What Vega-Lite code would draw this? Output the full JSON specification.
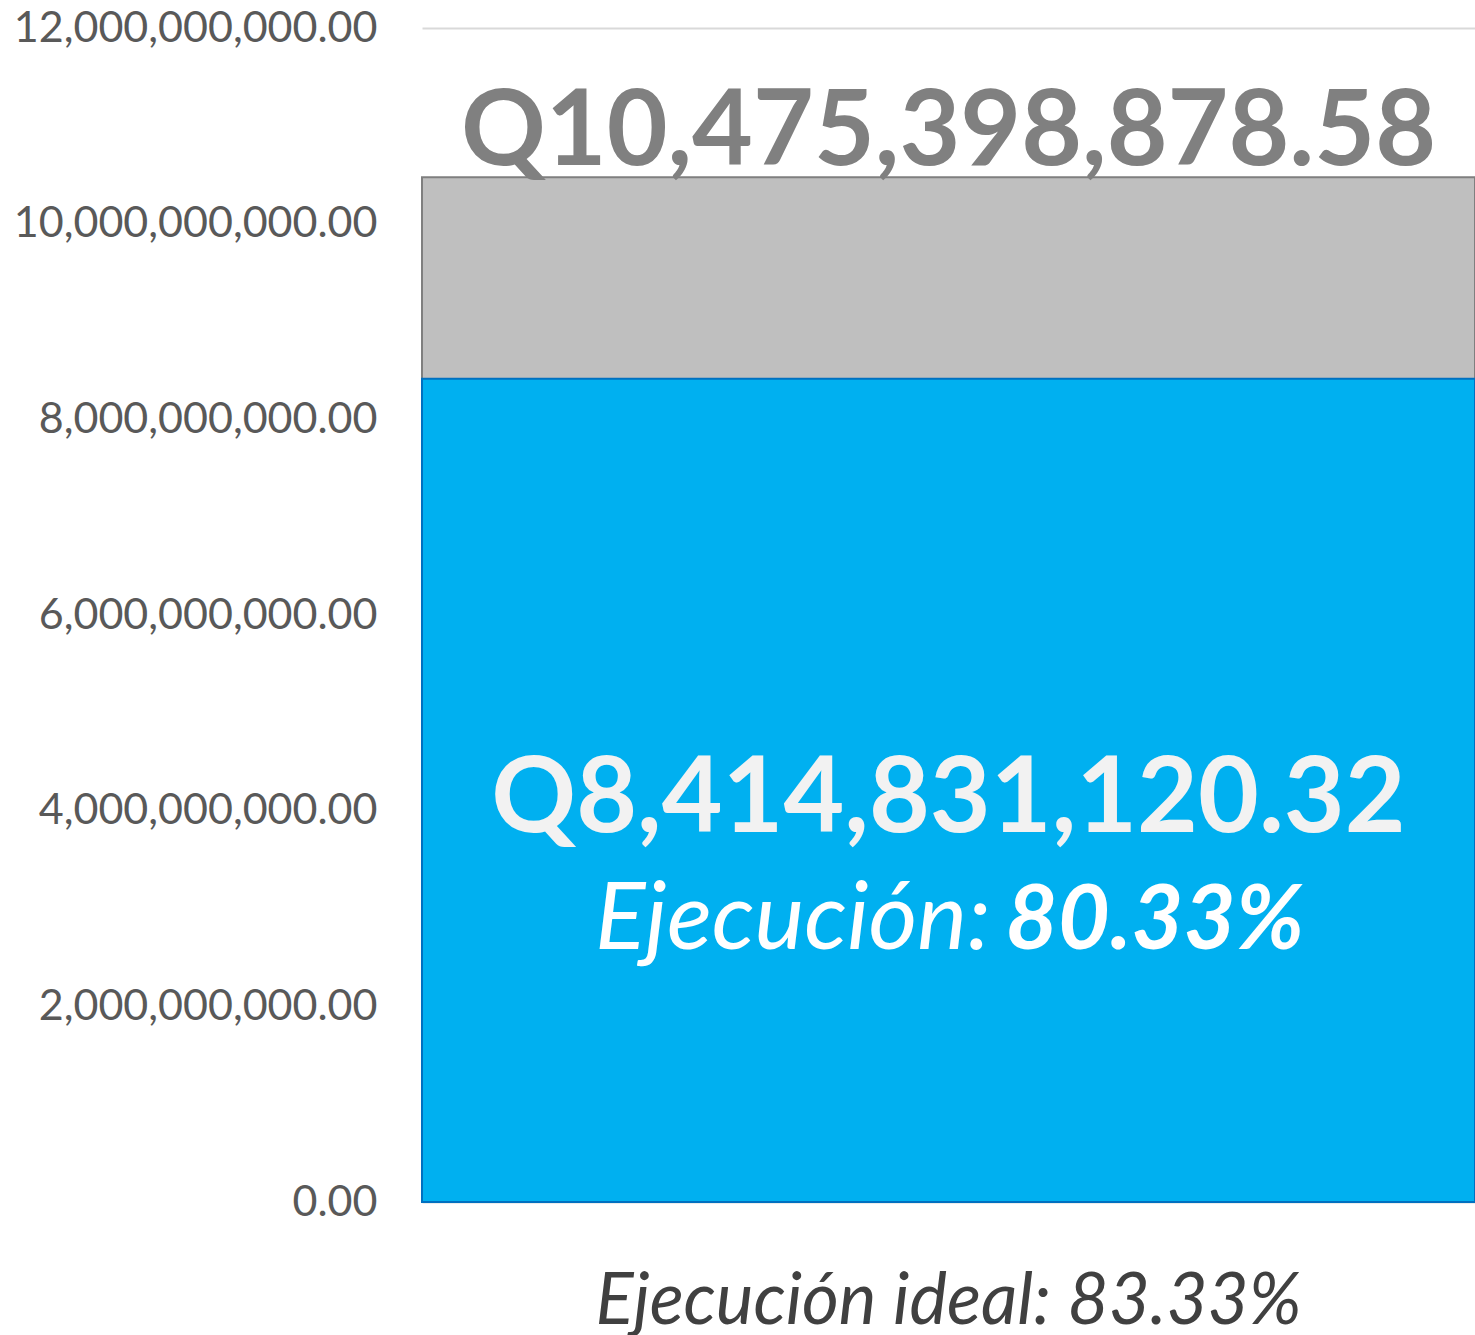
{
  "$schema": "https://vega.github.io/schema/vega-lite/v6.json",
  "autosize": {"type": "none"},
  "width": 1053,
  "height": 1174,
  "padding": {"left": 422, "top": 28, "right": 0, "bottom": 133},
  "background": "white",
  "config": {
    "view": {"stroke": null},
    "font": "Lato",
    "locale": {"number": {"decimal": ".", "thousands": ",", "grouping": [3], "currency": ["Q", ""]}}
  },
  "data": {"values": [
    {"categoria": "Ejecución ideal: 83.33%", "presupuesto": 10475398878.58, "ejecutado": 8414831120.32, "porcentaje": 0.8033}
  ]},
  "encoding": {
    "x": {
      "field": "categoria", "type": "nominal",
      "scale": {"paddingInner": 0, "paddingOuter": 0},
      "axis": {"title": null, "ticks": false, "tickSize": 0, "domain": false, "grid": false,
        "labelFont": "Lato", "labelFontStyle": "italic", "labelFontSize": 71, "labelColor": "#404040",
        "labelPadding": 121, "labelBaseline": "alphabetic", "labelAngle": 0, "labelLimit": 0}
    }
  },
  "layer": [
    {
      "mark": {"type": "bar", "fill": "#bfbfbf", "stroke": "#7f7f7f", "strokeWidth": 2},
      "encoding": {
        "y": {"field": "presupuesto", "type": "quantitative", "title": null,
          "scale": {"domain": [0, 12000000000], "nice": false, "zero": true},
          "axis": {"title": null, "values": [0, 2000000000, 4000000000, 6000000000, 8000000000, 10000000000, 12000000000],
            "format": ",.2f", "ticks": false, "tickSize": 0, "domain": false,
            "labelFont": "Lato", "labelFontSize": 43, "labelColor": "#595959", "labelPadding": 45, "labelLimit": 0,
            "gridColor": "#d9d9d9", "gridWidth": 2}}
      }
    },
    {
      "mark": {"type": "bar", "fill": "#00b0f0", "stroke": "#0070c0", "strokeWidth": 2},
      "encoding": {"y": {"field": "ejecutado", "type": "quantitative", "title": null}}
    },
    {
      "mark": {"type": "text", "font": "Lato", "fontWeight": "bold", "fontSize": 105, "fill": "#808080", "baseline": "alphabetic", "dy": -12},
      "encoding": {
        "y": {"field": "presupuesto", "type": "quantitative", "title": null},
        "text": {"field": "presupuesto", "type": "quantitative", "format": "$,.2f"}
      }
    },
    {
      "mark": {"type": "text", "font": "Lato", "fontWeight": "bold", "fontSize": 105, "fill": "#f2f2f2", "baseline": "alphabetic", "dy": 453},
      "encoding": {
        "y": {"field": "ejecutado", "type": "quantitative", "title": null},
        "text": {"field": "ejecutado", "type": "quantitative", "format": "$,.2f"}
      }
    },
    {
      "mark": {"type": "text", "text": "Ejecución:", "font": "Lato", "fontStyle": "italic", "fontSize": 94, "fill": "#ffffff", "baseline": "alphabetic", "align": "right", "dx": 42, "dy": 570},
      "encoding": {
        "y": {"field": "ejecutado", "type": "quantitative", "title": null}
      }
    },
    {
      "mark": {"type": "text", "font": "Lato", "fontStyle": "italic", "fontWeight": "bold", "fontSize": 90, "fill": "#ffffff", "baseline": "alphabetic", "align": "left", "dx": 57, "dy": 570},
      "encoding": {
        "y": {"field": "ejecutado", "type": "quantitative", "title": null},
        "text": {"field": "porcentaje", "type": "quantitative", "format": ".2%"}
      }
    }
  ]
}
